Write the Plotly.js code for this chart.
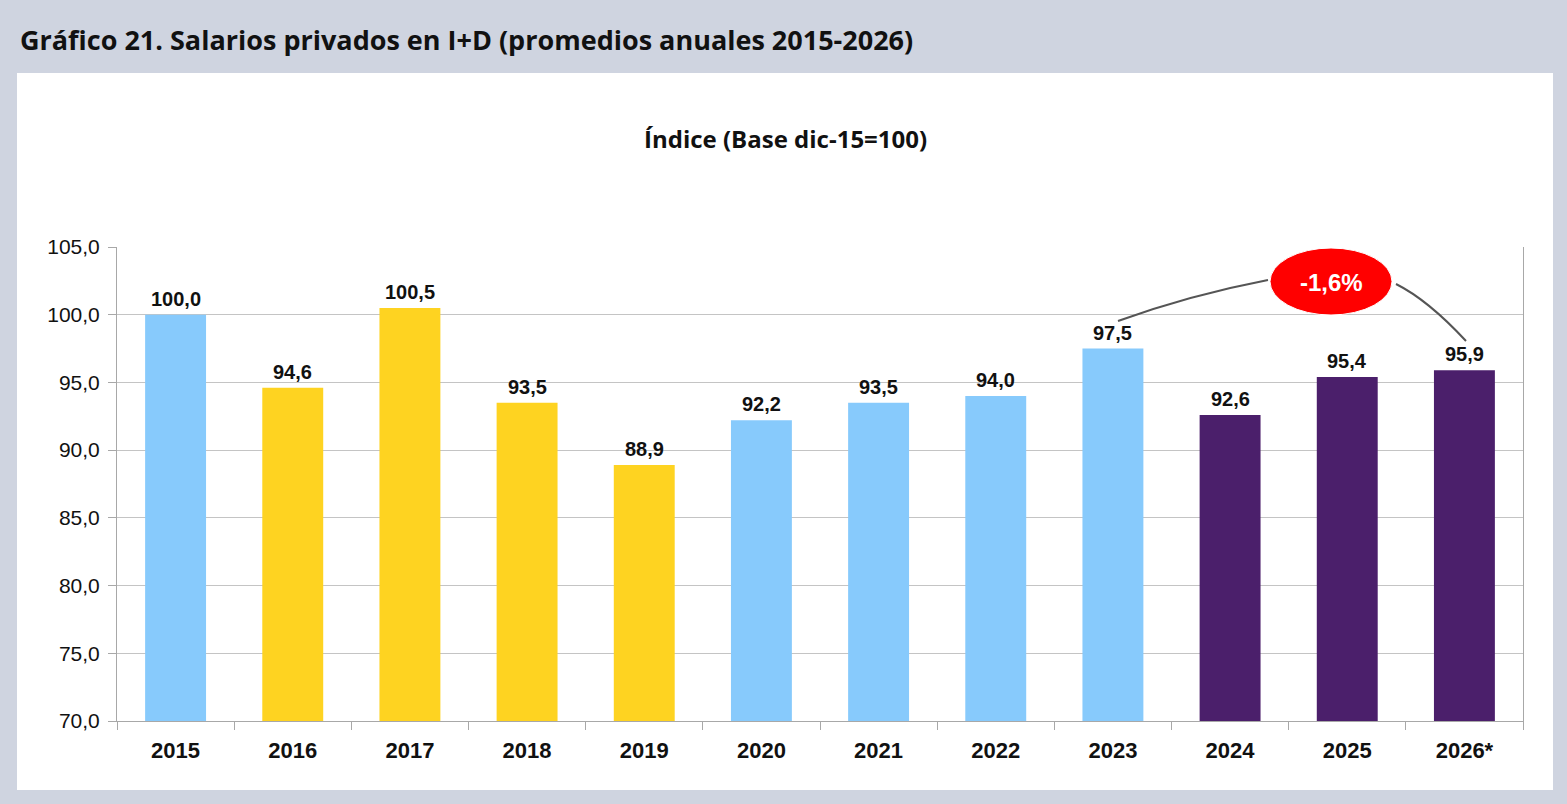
<!DOCTYPE html>
<html>
<head>
<meta charset="utf-8">
<script src="https://cdn.plot.ly/plotly-3.0.1.min.js"></script>
<style>
  html, body { margin: 0; padding: 0; background: #cfd4e0; }
  #chart { width: 1567px; height: 804px; }
</style>
</head>
<body>
<div id="chart"></div>
<script>
const years = ['2015', '2016', '2017', '2018', '2019', '2020', '2021', '2022', '2023', '2024', '2025', '2026*'];
const indexValues = [100.0, 94.6, 100.5, 93.5, 88.9, 92.2, 93.5, 94.0, 97.5, 92.6, 95.4, 95.9];
const barColors = ['#87cafc', '#fed321', '#fed321', '#fed321', '#fed321', '#87cafc', '#87cafc', '#87cafc', '#87cafc', '#4b1f6b', '#4b1f6b', '#4b1f6b'];
const changeLabel = '-1,6%';

const labelFont = { family: 'Liberation Sans, Arial, sans-serif', size: 20, color: '#111111' };

const bars = {
    x: years,
    y: indexValues,
    type: 'bar',
    marker: { color: barColors },
    hoverinfo: 'skip',
};

// value labels above each bar (x as category index, the year names look numeric)
const valueLabels = years.map((yr, i) => ({
    x: i,
    y: indexValues[i],
    xref: 'x',
    yref: 'y',
    text: '<b>' + indexValues[i].toFixed(1).replace('.', ',') + '</b>',
    showarrow: false,
    xanchor: 'center',
    yanchor: 'bottom',
    yshift: 3,
    font: labelFont,
}));

// plot area in pixels: x 117..1523, y 247..721
const px = (v) => (v - 117) / 1406;
const py = (v) => (721 - v) / 474;

const layout = {
    width: 1567,
    height: 804,
    separators: ',.',
    paper_bgcolor: '#cfd4e0',
    plot_bgcolor: '#ffffff',
    showlegend: false,
    bargap: 0.48,
    margin: { l: 117, r: 44, t: 247, b: 83, pad: 0 },
    title: {
        text: '<b>Gráfico 21. Salarios privados en I+D (promedios anuales 2015-2026)</b>',
        font: { family: 'Open Sans, sans-serif', size: 27, color: '#111111' },
        xref: 'container',
        x: 20 / 1567,
        xanchor: 'left',
        yref: 'container',
        y: 1 - 41 / 804,
        yanchor: 'middle',
    },
    xaxis: {
        type: 'category',
        range: [-0.5, years.length - 0.5],
        tickson: 'boundaries',
        ticks: 'outside',
        ticklen: 8,
        tickcolor: '#a8a8a8',
        showline: true,
        linecolor: '#a8a8a8',
        showgrid: false,
        ticklabelstandoff: 10,
        tickangle: 0,
        tickfont: { family: 'Liberation Sans, Arial, sans-serif', size: 22, color: '#111111', weight: 'bold' },
        fixedrange: true,
    },
    yaxis: {
        range: [70, 105],
        dtick: 5,
        tickformat: '.1f',
        ticks: 'outside',
        ticklen: 8,
        tickcolor: '#a8a8a8',
        showline: true,
        mirror: true,
        linecolor: '#a8a8a8',
        gridcolor: '#c4c4c4',
        zeroline: false,
        ticklabelstandoff: 4,
        tickfont: { family: 'Liberation Sans, Arial, sans-serif', size: 21, color: '#111111' },
        fixedrange: true,
    },
    shapes: [
        // white panel
        { type: 'rect', xref: 'paper', yref: 'paper', layer: 'below',
          x0: px(17), x1: px(1553), y0: py(790), y1: py(73),
          fillcolor: '#ffffff', line: { width: 0 } },
        // connector lines to the change bubble
        { type: 'path', xref: 'paper', yref: 'paper',
          path: `M ${px(1118)},${py(321)} Q ${px(1190)},${py(295)} ${px(1268)},${py(280)}`,
          line: { color: '#555555', width: 2 } },
        { type: 'path', xref: 'paper', yref: 'paper',
          path: `M ${px(1396)},${py(284)} Q ${px(1428)},${py(300)} ${px(1466)},${py(341)}`,
          line: { color: '#555555', width: 2 } },
        // red ellipse
        { type: 'circle', xref: 'paper', yref: 'paper',
          x0: px(1270), x1: px(1392), y0: py(315), y1: py(248),
          fillcolor: '#ff0000', line: { color: '#ffffff', width: 1 } },
    ],
    annotations: [
        { text: '<b>Índice (Base dic-15=100)</b>', xref: 'paper', yref: 'paper',
          x: px(785), y: py(138), xanchor: 'center', yanchor: 'middle', showarrow: false,
          font: { family: 'Open Sans, sans-serif', size: 24, color: '#111111' } },
        { text: '<b>' + changeLabel + '</b>', xref: 'paper', yref: 'paper',
          x: px(1331), y: py(282), xanchor: 'center', yanchor: 'middle', showarrow: false,
          font: { family: 'Liberation Sans, Arial, sans-serif', size: 24, color: '#ffffff' } },
        ...valueLabels,
    ],
};

Plotly.newPlot('chart', [bars], layout, { displayModeBar: false, staticPlot: true });
</script>
</body>
</html>
